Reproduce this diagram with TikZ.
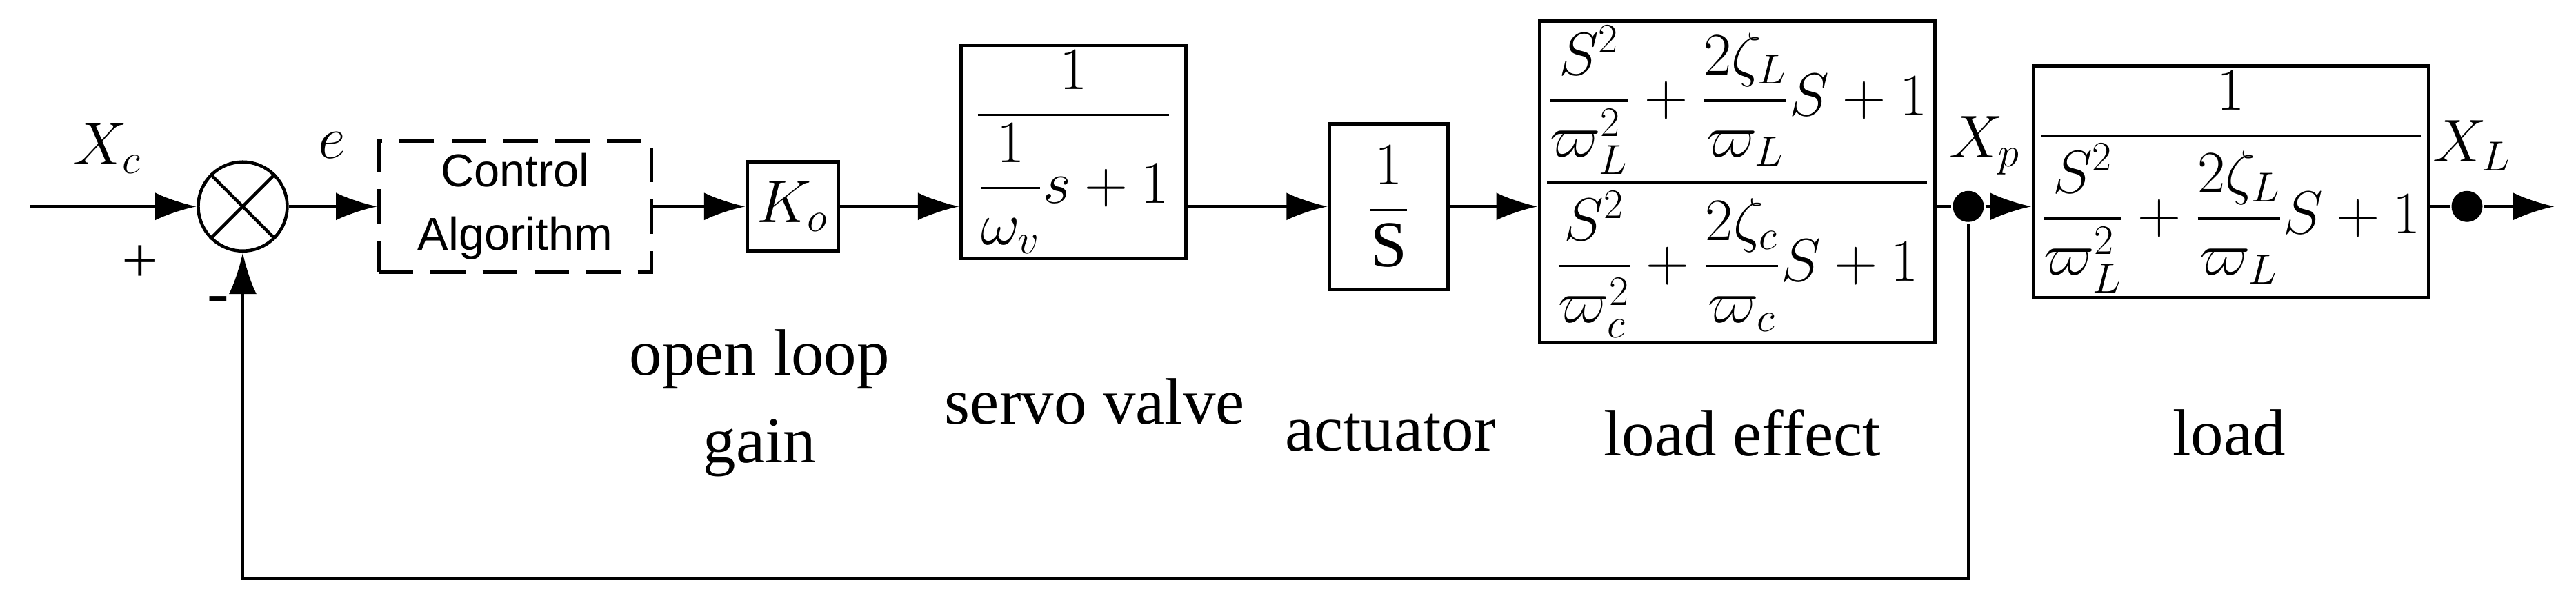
\documentclass[tikz,border=0pt]{standalone}
\usepackage{amsmath}
\usepackage{fontspec}
\setmainfont{Liberation Serif}
\newfontfamily\sansf{Liberation Sans}
\usetikzlibrary{arrows.meta,shapes,positioning}

\begin{document}
\begin{tikzpicture}[x=0.02394cm, y=-0.02394cm, >={Latex[length=6mm,width=4mm]},
                    line width=1.3pt, font=\fontsize{27}{32}\selectfont]
  \tikzstyle{block} = [rectangle, draw=black, inner sep=2pt, align=center]
  \tikzstyle{lbl} = [align=center, font=\fontsize{27}{36}\selectfont]
  \tikzstyle{dot} = [circle, fill=black, inner sep=0pt, minimum size=4.5mm]

  \useasboundingbox (0,0) rectangle (1560,365);

  \coordinate (in) at (18,125);
  \node (sum) [circle, draw, minimum size=1.29cm] at (147,125) {};
  \draw (sum.north west) -- (sum.south east) (sum.north east) -- (sum.south west);
  \node (ctrl) [block, dash pattern=on 5mm off 2.5mm, minimum width=3.95cm, minimum height=1.9cm,
                font=\sansf\fontsize{19}{26}\selectfont] at (312,125) {Control\\Algorithm};
  \node (gain) [block, minimum width=1.32cm, minimum height=1.29cm] at (480,125) {$K_o$};
  \node (servo) [block, minimum width=3.26cm, minimum height=2.5cm, font=\fontsize{25}{30}\selectfont] at (650,92)
        {$\dfrac{1}{\dfrac{1}{\omega_v}s+1}$};
  \node (act) [block, minimum width=1.72cm, minimum height=2.4cm] at (841,125) {$\dfrac{1}{\mathrm{S}}$};
  \node (eff) [block, minimum width=5.48cm, minimum height=4.19cm, font=\fontsize{23}{30}\selectfont] at (1052,110)
        {$\dfrac{\dfrac{S^2}{\varpi_L^2}+\dfrac{2\zeta_L}{\varpi_L}S+1}{\dfrac{S^2}{\varpi_c^2}+\dfrac{2\zeta_c}{\varpi_c}S+1}$};
  \node (load) [block, minimum width=5.31cm, minimum height=2.87cm, font=\fontsize{23}{30}\selectfont] at (1351,110)
        {$\dfrac{1}{\dfrac{S^2}{\varpi_L^2}+\dfrac{2\zeta_L}{\varpi_L}S+1}$};
  \node (xp) [dot] at (1192,125) {};
  \node (xl) [dot] at (1494,125) {};
  \coordinate (out) at (1547,125);
  \coordinate (fb) at (1192,350);

  % signal labels
  \node at (65,90) {$X_c$};
  \node at (85,160) {+};
  \node at (132,185) {-};
  \node at (201,88) {$e$};
  \node at (1202,88) {$X_p$};
  \node at (1497,88) {$X_L$};
  \node [lbl] at (460,244) {open loop\\gain};
  \node [lbl] at (663,243) {servo valve};
  \node [lbl] at (842,262) {actuator};
  \node [lbl] at (1055,262) {load effect};
  \node [lbl] at (1350,262) {load};

  \draw [->] (in) -- (sum);
  \draw [->] (sum) -- (ctrl);
  \draw [->] (ctrl) -- (gain);
  \draw [->] (gain) -- (servo.west |- gain);
  \draw [->] (servo.east |- gain) -- (act);
  \draw [->] (act) -- (eff.west |- act);
  \draw (eff.east |- xp) -- (xp);
  \draw [->] (xp) -- (load.west |- xp);
  \draw (load.east |- xl) -- (xl);
  \draw [->] (xl) -- (out);
  \draw [->] (xp) -- (fb) -| (sum.south);
\end{tikzpicture}
\end{document}
